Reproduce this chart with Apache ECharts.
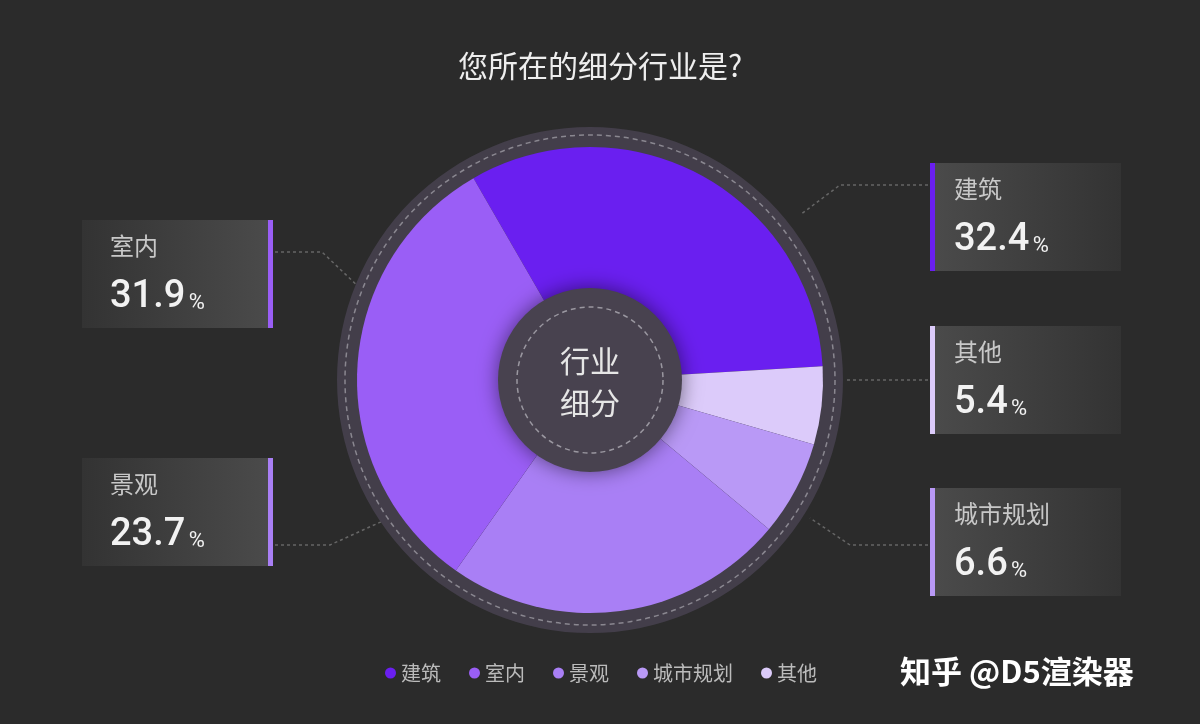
<!DOCTYPE html>
<html>
<head>
<meta charset="utf-8">
<script src="https://cdn.jsdelivr.net/npm/echarts@6/dist/echarts.min.js"></script>
<style>html,body{margin:0;padding:0;background:#2b2b2b}#c{width:1200px;height:724px}</style>
</head>
<body>
<div id="c"></div>
<script>
// 数据（顺时针顺序）
var names = ['建筑', '其他', '城市规划', '景观', '室内'];
var values = [32.4, 5.4, 6.6, 23.7, 31.9];
var colors = ['#6a1ff0', '#dccbfa', '#b999f6', '#a97ff5', '#9a5ef6'];
var legendOrder = ['建筑', '室内', '景观', '城市规划', '其他'];

// 标签框布局
var boxes = {
    '室内': {x: 82, y: 220, side: 'left', line: [[275, 252], [322, 252], [362, 290]]},
    '景观': {x: 82, y: 458, side: 'left', line: [[275, 545], [330, 545], [385, 520]]},
    '建筑': {x: 930, y: 163, side: 'right', line: [[928, 185], [840, 185], [800, 215]]},
    '其他': {x: 930, y: 326, side: 'right', line: [[928, 380], [845, 380]]},
    '城市规划': {x: 930, y: 488, side: 'right', line: [[928, 545], [850, 545], [810, 518]]}
};

var graphics = [];
names.forEach(function (n, i) {
    var b = boxes[n], left = b.side === 'left';
    graphics.push({
        type: 'rect', shape: {x: b.x, y: b.y, width: 191, height: 108}, z: 1,
        style: {fill: new echarts.graphic.LinearGradient(0, 0, 1, 0, left ?
            [{offset: 0, color: '#333333'}, {offset: 1, color: '#4b4b4b'}] :
            [{offset: 0, color: '#4b4b4b'}, {offset: 1, color: '#333333'}])}
    });
    graphics.push({
        type: 'rect', shape: {x: left ? b.x + 186 : b.x, y: b.y, width: 5, height: 108}, z: 2,
        style: {fill: colors[i]}
    });
    var tx = left ? b.x + 28 : b.x + 24;
    graphics.push({type: 'text', x: tx, y: b.y + 14, z: 3,
        style: {text: n, fill: '#c8c8c8', font: '24px "Noto Sans CJK SC"'}});
    graphics.push({type: 'text', x: tx, y: b.y + 58, z: 3,
        style: {text: '{v|' + values[i].toFixed(1) + '} {p|%}', fill: '#f2f2f2',
            rich: {v: {font: '500 38px Roboto', fill: '#f2f2f2'},
                   p: {font: '22px Roboto', fill: '#f2f2f2', padding: [12, 0, 0, 0]}}}});
    graphics.push({type: 'polyline', shape: {points: b.line}, z: 1,
        style: {stroke: '#666', lineWidth: 1.5, lineDash: [3, 3], fill: null}});
});
// 外圈虚线、内圈
graphics.push({type: 'circle', shape: {cx: 590, cy: 380, r: 245}, z: 10, silent: true,
    style: {fill: null, stroke: '#8a8790', lineWidth: 1.5, lineDash: [5, 4]}});
graphics.push({type: 'circle', shape: {cx: 590, cy: 380, r: 92}, z: 10,
    style: {fill: '#48424f', shadowBlur: 20, shadowColor: 'rgba(0,0,0,0.5)'}});
graphics.push({type: 'circle', shape: {cx: 590, cy: 380, r: 73}, z: 11,
    style: {fill: null, stroke: '#9a97a0', lineWidth: 1.5, lineDash: [5, 4]}});
graphics.push({type: 'text', x: 590, y: 382, z: 12,
    style: {text: '行业\n细分', fill: '#e6e6e6', font: '30px "Noto Sans CJK SC"', lineHeight: 42,
        align: 'center', verticalAlign: 'middle'}});
graphics.push({type: 'text', x: 900, y: 656, z: 12,
    style: {text: '知乎 @D5渲染器', fill: '#ffffff', font: 'bold 31px "Noto Sans CJK SC"'}});

var chart = echarts.init(document.getElementById('c'));
chart.setOption({
    backgroundColor: '#2b2b2b',
    title: {text: '您所在的细分行业是?', left: 'center', top: 46,
        textStyle: {color: '#eeeeee', fontSize: 30, fontWeight: 'normal', fontFamily: 'Noto Sans CJK SC'}},
    legend: {data: legendOrder, bottom: 36, left: 380, icon: 'circle', itemWidth: 11, itemHeight: 11,
        itemGap: 28, textStyle: {color: '#bbbbbb', fontSize: 20, fontFamily: 'Noto Sans CJK SC'}},
    graphic: graphics,
    series: [
        {type: 'pie', silent: true, radius: [228, 253], center: [590, 380], label: {show: false},
            data: [{value: 1, name: 'ring', itemStyle: {color: '#433e4a'}}], legendHoverLink: false, z: 1},
        {type: 'pie', radius: [0, 233], center: [590, 380], startAngle: 120, clockwise: true,
            label: {show: false}, labelLine: {show: false}, z: 2,
            data: names.map(function (n, i) { return {name: n, value: values[i], itemStyle: {color: colors[i]}}; })}
    ]
});
</script>
</body>
</html>
